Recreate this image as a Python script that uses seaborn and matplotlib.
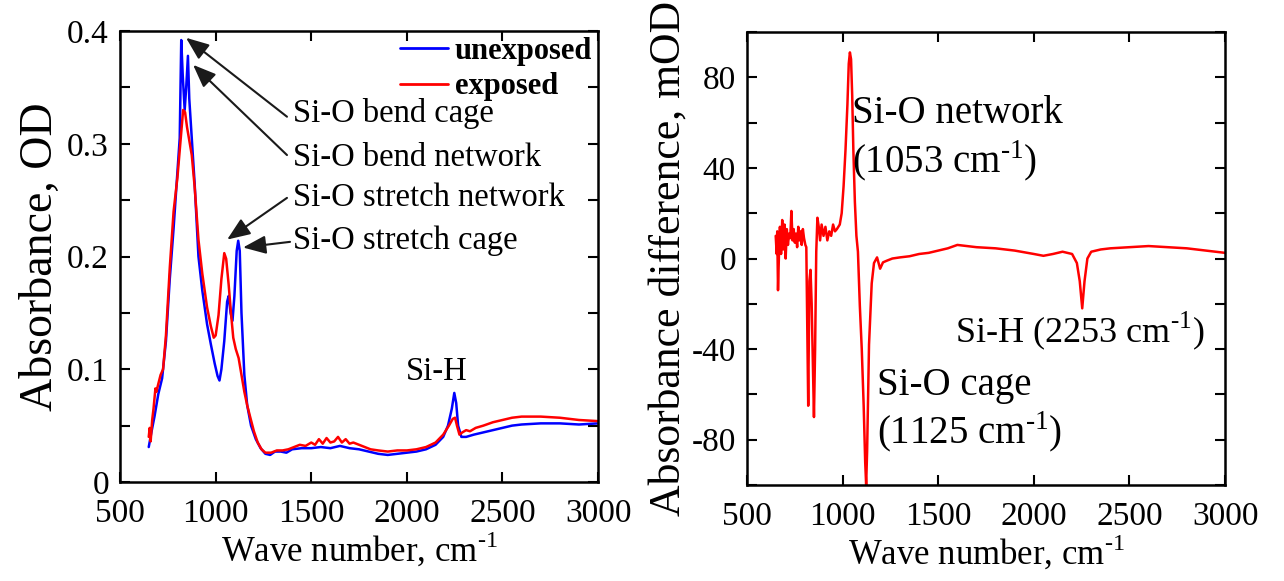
import matplotlib
matplotlib.use("Agg")
import matplotlib.pyplot as plt
import pandas as pd
import seaborn as sns
from matplotlib.ticker import MultipleLocator, FuncFormatter

# left panel: absorbance spectra
unexp_x = [650, 665, 680, 700, 720, 740, 760, 780, 800, 812, 820, 828, 838, 846, 855, 862,
           875, 890, 910, 930, 955, 975, 995, 1010, 1020, 1030, 1045, 1060, 1068, 1078, 1088,
           1098, 1110, 1118, 1126, 1135, 1150, 1165, 1185, 1210, 1235, 1260, 1285, 1310, 1340,
           1370, 1400, 1450, 1500, 1550, 1600, 1650, 1700, 1750, 1800, 1850, 1900, 1950, 2000,
           2050, 2100, 2150, 2190, 2215, 2235, 2248, 2258, 2268, 2285, 2310, 2350, 2400, 2450,
           2500, 2550, 2600, 2700, 2800, 2900, 3000]
unexp_y = [0.031, 0.045, 0.058, 0.078, 0.092, 0.125, 0.180, 0.225, 0.275, 0.305, 0.392, 0.360,
           0.330, 0.350, 0.378, 0.340, 0.305, 0.265, 0.200, 0.170, 0.140, 0.122, 0.105, 0.094,
           0.090, 0.100, 0.125, 0.160, 0.165, 0.150, 0.143, 0.165, 0.205, 0.214, 0.205, 0.150,
           0.095, 0.068, 0.050, 0.038, 0.030, 0.025, 0.024, 0.027, 0.027, 0.026, 0.029, 0.030,
           0.030, 0.031, 0.030, 0.032, 0.030, 0.029, 0.027, 0.025, 0.024, 0.025, 0.026, 0.027,
           0.029, 0.033, 0.040, 0.050, 0.065, 0.079, 0.070, 0.050, 0.040, 0.040, 0.042, 0.044,
           0.046, 0.048, 0.050, 0.051, 0.052, 0.052, 0.051, 0.052]

exp_x = [650, 655, 660, 668, 675, 685, 690, 700, 712, 725, 740, 760, 780, 800, 815, 830, 840,
         850, 860, 875, 890, 910, 930, 955, 975, 990, 1000, 1015, 1030, 1045, 1055, 1068, 1080,
         1092, 1105, 1120, 1135, 1150, 1165, 1180, 1200, 1220, 1240, 1260, 1290, 1320, 1350,
         1380, 1410, 1440, 1470, 1500, 1520, 1540, 1560, 1580, 1600, 1620, 1640, 1660, 1680,
         1700, 1720, 1750, 1780, 1810, 1850, 1900, 1950, 2000, 2050, 2100, 2150, 2190, 2220,
         2240, 2252, 2262, 2275, 2290, 2310, 2330, 2360, 2400, 2450, 2500, 2550, 2600, 2700,
         2800, 2900, 3000]
exp_y = [0.040, 0.048, 0.036, 0.055, 0.065, 0.083, 0.080, 0.087, 0.095, 0.100, 0.130, 0.190,
         0.240, 0.270, 0.300, 0.330, 0.328, 0.315, 0.305, 0.290, 0.262, 0.215, 0.185, 0.155,
         0.138, 0.128, 0.130, 0.148, 0.180, 0.203, 0.198, 0.175, 0.150, 0.128, 0.118, 0.110,
         0.095, 0.080, 0.068, 0.058, 0.045, 0.035, 0.029, 0.026, 0.026, 0.028, 0.028, 0.029,
         0.031, 0.033, 0.032, 0.035, 0.033, 0.038, 0.034, 0.039, 0.035, 0.036, 0.040, 0.035,
         0.038, 0.034, 0.035, 0.033, 0.031, 0.029, 0.028, 0.027, 0.028, 0.028, 0.029, 0.031,
         0.035, 0.042, 0.050, 0.056, 0.057, 0.050, 0.042, 0.044, 0.046, 0.045, 0.048, 0.050,
         0.053, 0.055, 0.057, 0.058, 0.058, 0.057, 0.055, 0.054]

# right panel: absorbance difference, mOD
diff_x = [650, 655, 658, 662, 668, 672, 678, 684, 690, 696, 702, 708, 714, 720, 726, 732, 738,
          744, 750, 756, 762, 768, 774, 780, 786, 792, 798, 805, 810, 815, 820, 826, 832, 838,
          844, 850, 856, 862, 868, 875, 882, 890, 900, 910, 920, 930, 940, 950, 960, 970, 985,
          995, 1005, 1015, 1025, 1032, 1038, 1044, 1050, 1056, 1064, 1072, 1080, 1090, 1100,
          1110, 1118, 1123, 1128, 1138, 1152, 1164, 1180, 1196, 1211, 1230, 1260, 1300, 1350,
          1400, 1450, 1500, 1550, 1600, 1650, 1700, 1800, 1900, 2000, 2050, 2100, 2150, 2200,
          2225, 2240, 2253, 2265, 2280, 2300, 2350, 2400, 2500, 2600, 2700, 2800, 2900, 3000]
diff_y = [10, 2, 12, -14, 5, 14, 2, 17, 4, 15, 0, 13, 6, 11, 9, 21, 8, 13, 7, 11, 5, 14, 8, 12,
          6, 13, 9, 6, 5, -30, -65, -10, -5, -20, -45, -70, -40, 3, 18, 14, 8, 15, 10, 14, 8, 12,
          10, 15, 12, 13, 15, 20, 32, 48, 68, 86, 91, 88, 72, 48, 25, 10, 3, -21, -40, -65, -90,
          -100, -85, -38, -11, -2, 0.5, -4.5, -1.7, -1, 0, 0.5, 1, 2, 2.5, 3.5, 4.5, 6, 5.5, 5,
          4.5, 3.5, 2, 1.2, 2, 3, 2, -2, -10, -22, -10, 0, 3, 4, 4.5, 5, 5.5, 5, 4.5, 3.5, 2.5]

sns.set_theme(style="ticks")
plt.rcParams["font.family"] = ["Liberation Serif", "DejaVu Serif"]
plt.rcParams["mathtext.fontset"] = "custom"
plt.rcParams["mathtext.rm"] = "Liberation Serif"
plt.rcParams["axes.unicode_minus"] = False
for k in ("text.color", "axes.labelcolor", "xtick.color", "ytick.color", "axes.edgecolor"):
    plt.rcParams[k] = "black"

spectra = pd.concat([
    pd.DataFrame({"wn": unexp_x, "A": unexp_y, "sample": "unexposed"}),
    pd.DataFrame({"wn": exp_x, "A": exp_y, "sample": "exposed"}),
])
diff = pd.DataFrame({"wn": diff_x, "dA": diff_y})

CM = "cm$^{\\mathrm{\u2010}1}$"

fig = plt.figure(figsize=(12.84, 5.81), dpi=100)
ax1 = fig.add_axes([0.0935, 0.1704, 0.3723, 0.7762])
ax2 = fig.add_axes([0.5818, 0.1652, 0.3723, 0.7797])

sns.lineplot(data=spectra, x="wn", y="A", hue="sample", sort=False, estimator=None,
             palette={"unexposed": "#0000ff", "exposed": "#ff0000"}, lw=1.8, ax=ax1)
sns.lineplot(data=diff, x="wn", y="dA", sort=False, estimator=None, color="#ff0000",
             lw=1.8, ax=ax2)

for ax in (ax1, ax2):
    ax.set_xlim(500, 3000)
    ax.xaxis.set_major_locator(MultipleLocator(500))
    ax.tick_params(which="both", direction="in", top=True, right=True, width=1.5,
                   length=7, labelsize=24)
    ax.tick_params(axis="x", pad=12)
    ax.tick_params(axis="y", pad=8)
    for s in ax.spines.values():
        s.set_linewidth(1.8)
    ax.set_xlabel("Wave number, " + CM, fontsize=25, labelpad=1)

ax1.set_ylim(0, 0.4)
ax1.yaxis.set_major_locator(MultipleLocator(0.1))
ax1.yaxis.set_minor_locator(MultipleLocator(0.05))
ax1.yaxis.set_major_formatter(FuncFormatter(lambda v, p: f"{v:g}"))
ax1.set_ylabel("Absorbance, OD", fontsize=33, labelpad=4)

ax2.set_ylim(-100, 100)
ax2.set_yticks([-80, -40, 0, 40, 80])
ax2.yaxis.set_minor_locator(MultipleLocator(20))
ax2.set_ylabel("Absorbance difference, mOD", fontsize=31.5, labelpad=2)

leg = ax1.legend(loc="upper right", frameon=False, prop={"weight": "bold", "size": 22},
                 handlelength=1.6, handletextpad=0.2, labelspacing=0.2,
                 borderaxespad=0.0, borderpad=0.2)
for h in leg.get_lines():
    h.set_linewidth(2)

arrow = dict(arrowstyle="-|>,head_length=0.5,head_width=0.2", color="k", lw=1.5,
             mutation_scale=28, shrinkA=0, shrinkB=0)
ax1.annotate("", xy=(845, 0.394), xytext=(1373, 0.324), arrowprops=arrow)
ax1.annotate("", xy=(882, 0.370), xytext=(1373, 0.290), arrowprops=arrow)
ax1.annotate("", xy=(1060, 0.215), xytext=(1373, 0.252), arrowprops=arrow)
ax1.annotate("", xy=(1143, 0.208), xytext=(1389, 0.213), arrowprops=arrow)
ann = dict(fontsize=23.5, va="center", ha="left")
ax1.text(1405, 0.327, "Si-O bend cage", **ann)
ax1.text(1405, 0.288, "Si-O bend network", **ann)
ax1.text(1405, 0.252, "Si-O stretch network", **ann)
ax1.text(1405, 0.214, "Si-O stretch cage", **ann)
ax1.text(2158, 0.098, "Si-H", fontsize=23.5, va="center", ha="center")

ann2 = dict(fontsize=28, va="center", ha="left")
ax2.text(1049, 64, "Si-O network", **ann2)
ax2.text(1049, 43, "(1053 " + CM + ")", **ann2)
ax2.text(1588, -32, "Si-H (2253 " + CM + ")", fontsize=26, va="center", ha="left")
ax2.text(1180, -56, "Si-O cage", **ann2)
ax2.text(1180, -77, "(1125 " + CM + ")", **ann2)

fig.savefig("out.png", dpi=100)
